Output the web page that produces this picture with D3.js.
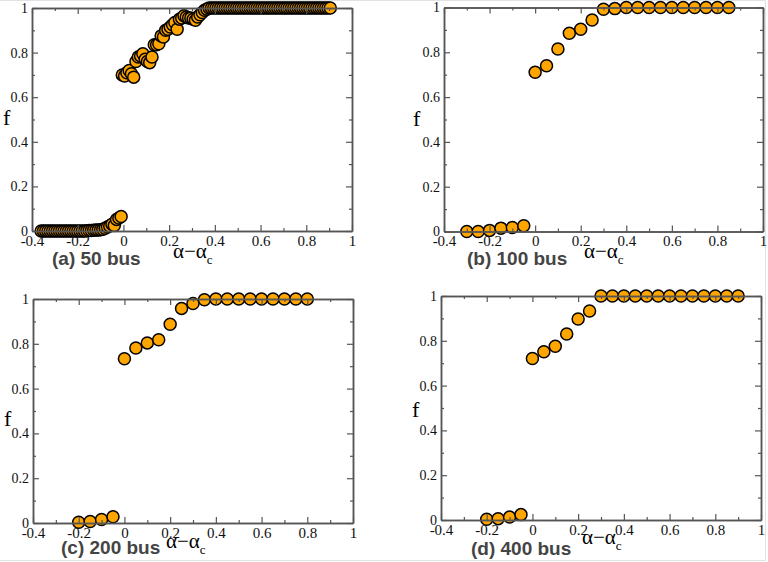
<!DOCTYPE html>
<html>
<head>
<meta charset="utf-8">
<script src="https://cdn.jsdelivr.net/npm/d3@7"></script>
<style>
  body { margin: 0; background: #fff; }
  svg { display: block; }
</style>
</head>
<body>
<svg id="fig" width="768" height="562"></svg>
<script>
// tick values
const xTicks = [-0.4, -0.2, 0, 0.2, 0.4, 0.6, 0.8, 1];
const xMinor = [-0.3, -0.1, 0.1, 0.3, 0.5, 0.7, 0.9];
const yTicks = [0, 0.2, 0.4, 0.6, 0.8, 1];
const yMinor = [0.1, 0.3, 0.5, 0.7, 0.9];
const panelLabels = ["(a) 50 bus", "(b) 100 bus", "(c) 200 bus", "(d) 400 bus"];

// [alpha - alpha_c, f]
const bus50 = [
  [-0.36,0],[-0.35,0],[-0.34,0],[-0.33,0],[-0.32,0],[-0.31,0],[-0.30,0],[-0.29,0],[-0.28,0],[-0.27,0],
  [-0.26,0],[-0.25,0],[-0.24,0],[-0.23,0],[-0.22,0],[-0.21,0],[-0.20,0],[-0.19,0],[-0.18,0],[-0.17,0],
  [-0.16,0.001],[-0.15,0.002],[-0.14,0.002],[-0.13,0.003],[-0.12,0.004],[-0.11,0.005],[-0.10,0.006],
  [-0.09,0.008],[-0.08,0.012],[-0.07,0.018],[-0.06,0.022],[-0.05,0.03],[-0.04,0.025],[-0.03,0.052],
  [-0.02,0.058],[-0.01,0.065],
  [-0.005,0.70],[0.005,0.695],[0.015,0.71],[0.025,0.72],[0.035,0.705],[0.045,0.69],[0.055,0.76],
  [0.065,0.78],[0.075,0.785],[0.085,0.795],[0.095,0.77],[0.105,0.76],[0.115,0.755],[0.125,0.78],
  [0.135,0.835],[0.145,0.835],[0.155,0.84],[0.165,0.875],[0.175,0.87],[0.185,0.90],[0.195,0.905],
  [0.205,0.915],[0.215,0.925],[0.225,0.935],[0.235,0.905],[0.245,0.95],[0.255,0.955],[0.265,0.965],
  [0.275,0.96],[0.285,0.955],[0.295,0.955],[0.305,0.95],[0.315,0.945],[0.325,0.96],[0.335,0.97],
  [0.345,0.98],[0.355,0.99],[0.365,0.995],[0.375,1],[0.385,1],[0.395,1],[0.405,1],[0.415,1],
  [0.425,1],[0.435,1],[0.445,1],[0.455,1],[0.465,1],[0.475,1],[0.485,1],[0.495,1],[0.505,1],
  [0.515,1],[0.525,1],[0.535,1],[0.545,1],[0.555,1],[0.565,1],[0.575,1],[0.585,1],[0.595,1],
  [0.605,1],[0.615,1],[0.625,1],[0.635,1],[0.645,1],[0.655,1],[0.665,1],[0.675,1],[0.685,1],
  [0.695,1],[0.705,1],[0.715,1],[0.725,1],[0.735,1],[0.745,1],[0.755,1],[0.765,1],[0.775,1],
  [0.785,1],[0.795,1],[0.805,1],[0.815,1],[0.825,1],[0.835,1],[0.845,1],[0.855,1],[0.865,1],
  [0.875,1],[0.885,1],[0.895,1],[0.905,1]
];
const bus100 = [
  [-0.3,0],[-0.25,0],[-0.2,0.005],[-0.15,0.015],[-0.1,0.018],[-0.05,0.026],
  [0,0.711],[0.05,0.74],[0.1,0.815],[0.15,0.885],[0.2,0.903],[0.25,0.944],[0.3,0.992],
  [0.35,0.995],[0.4,1],[0.45,1],[0.5,1],[0.55,1],[0.6,1],[0.65,1],[0.7,1],[0.75,1],[0.8,1],[0.85,1]
];
const bus200 = [
  [-0.2,0.003],[-0.15,0.007],[-0.1,0.016],[-0.05,0.028],
  [0,0.733],[0.05,0.781],[0.1,0.804],[0.15,0.818],[0.2,0.887],[0.25,0.958],[0.3,0.98],
  [0.35,0.997],[0.4,1],[0.45,1],[0.5,1],[0.55,1],[0.6,1],[0.65,1],[0.7,1],[0.75,1],[0.8,1]
];
const bus400 = [
  [-0.2,0.003],[-0.15,0.006],[-0.1,0.013],[-0.05,0.024],
  [0,0.721],[0.05,0.751],[0.1,0.776],[0.15,0.83],[0.2,0.897],[0.25,0.933],
  [0.3,1],[0.35,1],[0.4,1],[0.45,1],[0.5,1],[0.55,1],[0.6,1],[0.65,1],[0.7,1],[0.75,1],
  [0.8,1],[0.85,1],[0.9,1]
];

// panel boxes and text positions (pixels)
const panels = [
  { data: bus50,  label: panelLabels[0], x0: 32,  x1: 352, y0: 8,   y1: 231, fx: 3,   fy: 125, ax: 173, ay: 258, lx: 52,  ly: 265 },
  { data: bus100, label: panelLabels[1], x0: 444, x1: 763, y0: 7.5, y1: 231.5, fx: 413, fy: 126, ax: 584, ay: 258, lx: 467, ly: 265 },
  { data: bus200, label: panelLabels[2], x0: 33,  x1: 353, y0: 299, y1: 523, fx: 4,   fy: 426, ax: 166, ay: 548, lx: 61,  ly: 554 },
  { data: bus400, label: panelLabels[3], x0: 441, x1: 761, y0: 296, y1: 520, fx: 412, fy: 417, ax: 582, ay: 544, lx: 471, ly: 555 }
];

const serif = "'Liberation Serif', 'Times New Roman', serif";
const frameColor = "#555";
const svg = d3.select("#fig");

// faint figure border
svg.append("path")
  .attr("d", "M0,0.5H765.5V560.5H0")
  .attr("fill", "none")
  .attr("stroke", "#e2e2e2");

panels.forEach(p => {
  const x = d3.scaleLinear().domain([-0.4, 1]).range([p.x0, p.x1]);
  const y = d3.scaleLinear().domain([0, 1]).range([p.y1, p.y0]);
  const g = svg.append("g");

  // markers
  g.append("g").selectAll("circle")
    .data(p.data)
    .join("circle")
    .attr("cx", d => x(d[0]))
    .attr("cy", d => y(d[1]))
    .attr("r", 6)
    .attr("fill", "#ffa500")
    .attr("stroke", "#000")
    .attr("stroke-width", 1.5);

  // frame with inward ticks, drawn above the markers
  const axes = [
    [d3.axisBottom(x).tickValues(xTicks).tickFormat(d => String(d)), `translate(0,${p.y1})`, false, 15],
    [d3.axisBottom(x).tickValues(xMinor).tickFormat(""), `translate(0,${p.y1})`, true],
    [d3.axisTop(x).tickValues(xTicks).tickFormat(""), `translate(0,${p.y0})`],
    [d3.axisTop(x).tickValues(xMinor).tickFormat(""), `translate(0,${p.y0})`, true],
    [d3.axisLeft(y).tickValues(yTicks).tickFormat(d => String(d)), `translate(${p.x0},0)`, false, 14],
    [d3.axisLeft(y).tickValues(yMinor).tickFormat(""), `translate(${p.x0},0)`, true],
    [d3.axisRight(y).tickValues(yTicks).tickFormat(""), `translate(${p.x1},0)`],
    [d3.axisRight(y).tickValues(yMinor).tickFormat(""), `translate(${p.x1},0)`, true]
  ];
  axes.forEach(([ax, tr, minor, fs]) => {
    const a = g.append("g")
      .attr("transform", tr)
      .call(ax.tickSize(minor ? -3 : -6).tickSizeOuter(0).tickPadding(4))
      .attr("font-family", serif)
      .attr("font-size", fs || 14)
      .attr("color", "#111");
    a.selectAll("line").attr("stroke", frameColor).attr("stroke-width", 1.2);
    a.select(".domain").attr("stroke", frameColor).attr("stroke-width", 1.5);
  });

  // y label
  g.append("text")
    .attr("x", p.fx)
    .attr("y", p.fy)
    .attr("font-family", serif)
    .attr("font-size", 22)
    .text("f");

  // x label
  const xl = g.append("text")
    .attr("x", p.ax)
    .attr("y", p.ay)
    .attr("font-family", serif)
    .attr("font-size", 21);
  xl.append("tspan").text("α−α");
  xl.append("tspan").attr("font-size", 13).attr("dy", 6).text("c");

  // panel label
  g.append("text")
    .attr("x", p.lx)
    .attr("y", p.ly)
    .attr("font-family", "'Liberation Sans', Arial, sans-serif")
    .attr("font-weight", "bold")
    .attr("font-size", 19)
    .attr("fill", "#444")
    .text(p.label);
});
</script>
</body>
</html>
